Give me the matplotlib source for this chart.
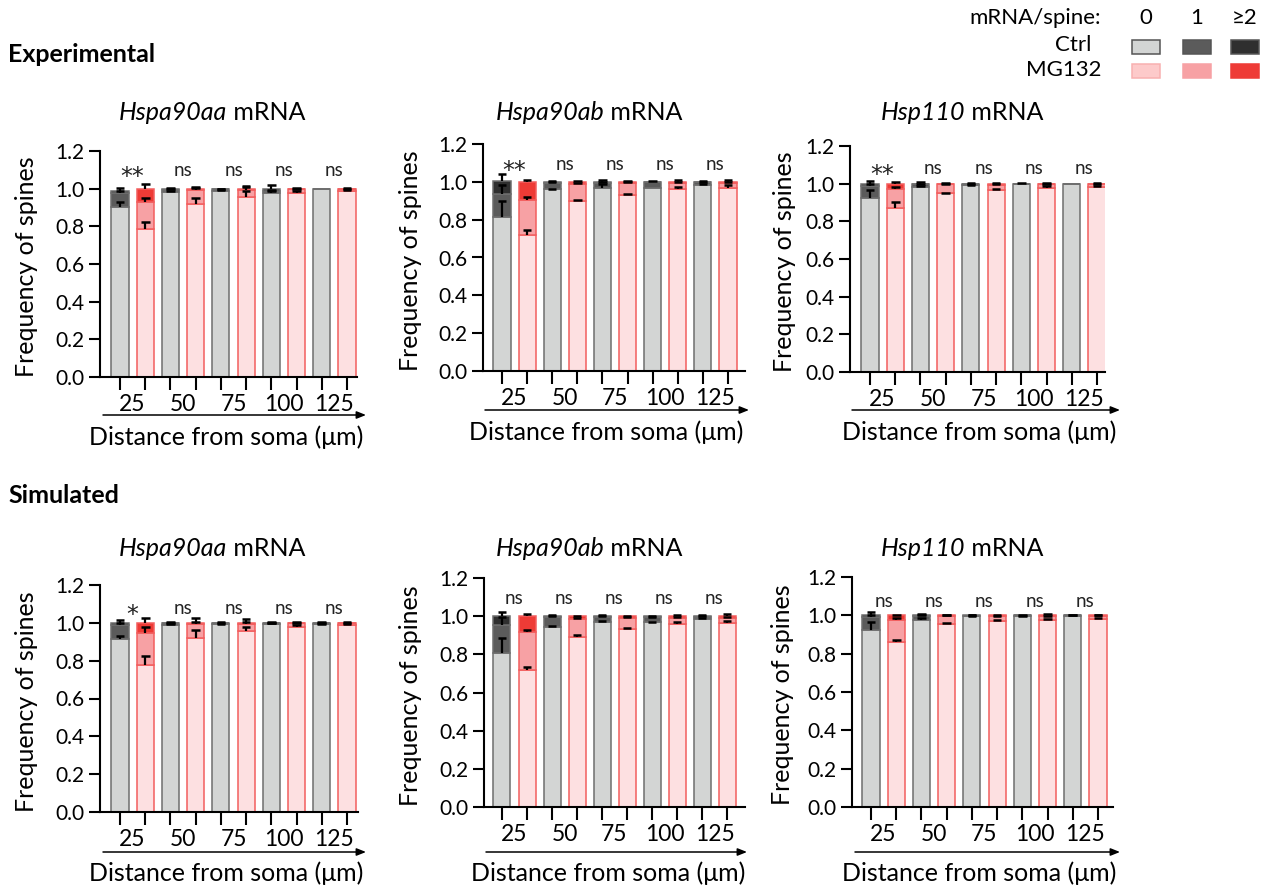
import matplotlib
matplotlib.use('Agg')
import matplotlib.pyplot as plt
import numpy as np
from matplotlib.patches import Rectangle

plt.rcParams['font.family'] = ['Lato', 'DejaVu Sans']

# ---------------- data ----------------
distances = ['25', '50', '75', '100', '125']
levels = ['0', '1', '≥2']
groups = ['Ctrl', 'MG132']
gene_names = ['Hspa90aa', 'Hspa90ab', 'Hsp110']
sections = ['Experimental', 'Simulated']

# Experimental Hspa90aa
exp_aa_ctrl_p0 = [0.900, 0.980, 0.990, 0.975, 0.997]
exp_aa_ctrl_p1 = [0.075, 0.015, 0.007, 0.015, 0.002]
exp_aa_ctrl_p2 = [0.015, 0.002, 0.000, 0.007, 0.000]
exp_aa_ctrl_e0 = [0.027, 0.005, 0.002, 0.012, 0.0]
exp_aa_ctrl_e1 = [0.012, 0.004, 0.002, 0.005, 0.0]
exp_aa_ctrl_e2 = [0.015, 0.005, 0.003, 0.025, 0.0]
exp_aa_mg_p0 = [0.785, 0.920, 0.955, 0.976, 0.985]
exp_aa_mg_p1 = [0.145, 0.075, 0.040, 0.020, 0.012]
exp_aa_mg_p2 = [0.070, 0.005, 0.005, 0.004, 0.003]
exp_aa_mg_e0 = [0.037, 0.030, 0.030, 0.010, 0.008]
exp_aa_mg_e1 = [0.020, 0.006, 0.012, 0.004, 0.003]
exp_aa_mg_e2 = [0.027, 0.010, 0.012, 0.006, 0.004]

# Experimental Hspa90ab
exp_ab_ctrl_p0 = [0.814, 0.960, 0.969, 0.968, 0.985]
exp_ab_ctrl_p1 = [0.120, 0.035, 0.025, 0.030, 0.012]
exp_ab_ctrl_p2 = [0.070, 0.005, 0.006, 0.002, 0.003]
exp_ab_ctrl_e0 = [0.085, 0.004, 0.017, 0.0, 0.004]
exp_ab_ctrl_e1 = [0.050, 0.003, 0.005, 0.0, 0.003]
exp_ab_ctrl_e2 = [0.035, 0.002, 0.012, 0.002, 0.004]
exp_ab_mg_p0 = [0.720, 0.900, 0.932, 0.960, 0.969]
exp_ab_mg_p1 = [0.183, 0.086, 0.064, 0.035, 0.027]
exp_ab_mg_p2 = [0.097, 0.014, 0.004, 0.005, 0.004]
exp_ab_mg_e0 = [0.027, 0.006, 0.004, 0.012, 0.016]
exp_ab_mg_e1 = [0.017, 0.010, 0.002, 0.003, 0.003]
exp_ab_mg_e2 = [0.008, 0.003, 0.002, 0.010, 0.012]

# Experimental Hsp110
exp_110_ctrl_p0 = [0.926, 0.984, 0.993, 0.998, 1.000]
exp_110_ctrl_p1 = [0.060, 0.012, 0.005, 0.002, 0.000]
exp_110_ctrl_p2 = [0.014, 0.004, 0.002, 0.000, 0.000]
exp_110_ctrl_e0 = [0.040, 0.005, 0.002, 0.0, 0.0]
exp_110_ctrl_e1 = [0.010, 0.003, 0.002, 0.0, 0.0]
exp_110_ctrl_e2 = [0.015, 0.008, 0.002, 0.002, 0.0]
exp_110_mg_p0 = [0.870, 0.949, 0.966, 0.979, 0.984]
exp_110_mg_p1 = [0.100, 0.048, 0.027, 0.017, 0.013]
exp_110_mg_p2 = [0.030, 0.003, 0.007, 0.004, 0.003]
exp_110_mg_e0 = [0.030, 0.004, 0.006, 0.009, 0.006]
exp_110_mg_e1 = [0.012, 0.002, 0.004, 0.004, 0.003]
exp_110_mg_e2 = [0.008, 0.002, 0.003, 0.005, 0.004]

# Simulated Hspa90aa
sim_aa_ctrl_p0 = [0.912, 0.988, 0.993, 0.995, 0.993]
sim_aa_ctrl_p1 = [0.075, 0.010, 0.005, 0.004, 0.004]
sim_aa_ctrl_p2 = [0.013, 0.002, 0.002, 0.001, 0.003]
sim_aa_ctrl_e0 = [0.018, 0.004, 0.002, 0.002, 0.002]
sim_aa_ctrl_e1 = [0.010, 0.003, 0.002, 0.002, 0.002]
sim_aa_ctrl_e2 = [0.014, 0.006, 0.003, 0.003, 0.002]
sim_aa_mg_p0 = [0.776, 0.921, 0.958, 0.979, 0.991]
sim_aa_mg_p1 = [0.172, 0.072, 0.035, 0.018, 0.006]
sim_aa_mg_p2 = [0.052, 0.007, 0.007, 0.003, 0.003]
sim_aa_mg_e0 = [0.048, 0.041, 0.021, 0.009, 0.003]
sim_aa_mg_e1 = [0.031, 0.012, 0.010, 0.004, 0.003]
sim_aa_mg_e2 = [0.023, 0.028, 0.018, 0.006, 0.004]

# Simulated Hspa90ab
sim_ab_ctrl_p0 = [0.805, 0.945, 0.969, 0.968, 0.986]
sim_ab_ctrl_p1 = [0.150, 0.050, 0.026, 0.027, 0.011]
sim_ab_ctrl_p2 = [0.045, 0.005, 0.005, 0.005, 0.003]
sim_ab_ctrl_e0 = [0.080, 0.006, 0.008, 0.004, 0.003]
sim_ab_ctrl_e1 = [0.040, 0.004, 0.004, 0.003, 0.002]
sim_ab_ctrl_e2 = [0.022, 0.004, 0.004, 0.003, 0.005]
sim_ab_mg_p0 = [0.720, 0.893, 0.933, 0.960, 0.965]
sim_ab_mg_p1 = [0.199, 0.093, 0.060, 0.033, 0.028]
sim_ab_mg_p2 = [0.081, 0.014, 0.007, 0.007, 0.007]
sim_ab_mg_e0 = [0.016, 0.009, 0.004, 0.009, 0.012]
sim_ab_mg_e1 = [0.006, 0.005, 0.003, 0.004, 0.004]
sim_ab_mg_e2 = [0.012, 0.003, 0.002, 0.007, 0.012]

# Simulated Hsp110
sim_110_ctrl_p0 = [0.922, 0.974, 0.995, 0.998, 0.999]
sim_110_ctrl_p1 = [0.068, 0.022, 0.004, 0.002, 0.001]
sim_110_ctrl_p2 = [0.010, 0.004, 0.001, 0.000, 0.000]
sim_110_ctrl_e0 = [0.043, 0.012, 0.002, 0.001, 0.001]
sim_110_ctrl_e1 = [0.010, 0.004, 0.002, 0.0, 0.0]
sim_110_ctrl_e2 = [0.017, 0.008, 0.002, 0.002, 0.001]
sim_110_mg_p0 = [0.861, 0.957, 0.970, 0.974, 0.980]
sim_110_mg_p1 = [0.116, 0.040, 0.027, 0.021, 0.017]
sim_110_mg_p2 = [0.023, 0.003, 0.003, 0.005, 0.003]
sim_110_mg_e0 = [0.012, 0.005, 0.004, 0.009, 0.008]
sim_110_mg_e1 = [0.009, 0.003, 0.002, 0.004, 0.003]
sim_110_mg_e2 = [0.004, 0.004, 0.003, 0.006, 0.004]

exp_sig = ['**', 'ns', 'ns', 'ns', 'ns']
sim_aa_sig = ['*', 'ns', 'ns', 'ns', 'ns']
sim_sig = ['ns', 'ns', 'ns', 'ns', 'ns']

panel_data = [
    (exp_aa_ctrl_p0, exp_aa_ctrl_p1, exp_aa_ctrl_p2, exp_aa_ctrl_e0, exp_aa_ctrl_e1, exp_aa_ctrl_e2,
     exp_aa_mg_p0, exp_aa_mg_p1, exp_aa_mg_p2, exp_aa_mg_e0, exp_aa_mg_e1, exp_aa_mg_e2, exp_sig),
    (exp_ab_ctrl_p0, exp_ab_ctrl_p1, exp_ab_ctrl_p2, exp_ab_ctrl_e0, exp_ab_ctrl_e1, exp_ab_ctrl_e2,
     exp_ab_mg_p0, exp_ab_mg_p1, exp_ab_mg_p2, exp_ab_mg_e0, exp_ab_mg_e1, exp_ab_mg_e2, exp_sig),
    (exp_110_ctrl_p0, exp_110_ctrl_p1, exp_110_ctrl_p2, exp_110_ctrl_e0, exp_110_ctrl_e1, exp_110_ctrl_e2,
     exp_110_mg_p0, exp_110_mg_p1, exp_110_mg_p2, exp_110_mg_e0, exp_110_mg_e1, exp_110_mg_e2, exp_sig),
    (sim_aa_ctrl_p0, sim_aa_ctrl_p1, sim_aa_ctrl_p2, sim_aa_ctrl_e0, sim_aa_ctrl_e1, sim_aa_ctrl_e2,
     sim_aa_mg_p0, sim_aa_mg_p1, sim_aa_mg_p2, sim_aa_mg_e0, sim_aa_mg_e1, sim_aa_mg_e2, sim_aa_sig),
    (sim_ab_ctrl_p0, sim_ab_ctrl_p1, sim_ab_ctrl_p2, sim_ab_ctrl_e0, sim_ab_ctrl_e1, sim_ab_ctrl_e2,
     sim_ab_mg_p0, sim_ab_mg_p1, sim_ab_mg_p2, sim_ab_mg_e0, sim_ab_mg_e1, sim_ab_mg_e2, sim_sig),
    (sim_110_ctrl_p0, sim_110_ctrl_p1, sim_110_ctrl_p2, sim_110_ctrl_e0, sim_110_ctrl_e1, sim_110_ctrl_e2,
     sim_110_mg_p0, sim_110_mg_p1, sim_110_mg_p2, sim_110_mg_e0, sim_110_mg_e1, sim_110_mg_e2, sim_sig),
]

# ---------------- style ----------------
ctrl_colors = ['#d3d5d4', '#5b5b5b', '#2f2f2f']
mg_colors = ['#fde0e1', '#f7a1a4', '#ee3b36']
ctrl_edge = '#6e6e6e'
mg_edge = '#f25e5e'

W, H = 1273, 888
fig = plt.figure(figsize=(W / 100, H / 100), dpi=100)
renderer = fig.canvas.get_renderer()

def fx(x):
    return x / W

def fy(y):
    return 1 - y / H

# pixel layout: (left, right, top(1.2), bottom(0), first bar, last bar, sig y, title x, title y,
#                ylabel x, xlabel x, xlabel y, arrow x0, arrow x1, arrow y)
layout = [
    (100, 357, 151, 377, 120, 347, 1.095, 212, 113, 27, 226, 437, 103, 366, 415),
    (483, 745, 144, 371, 502, 728, 1.094, 589, 113, 410, 606, 432, 485, 749, 410),
    (850, 1105, 146, 372, 870, 1097, 1.080, 962, 113, 785, 979, 432, 852, 1120, 410),
    (100, 358, 585, 812, 120, 347, 1.075, 212, 548, 27, 226, 873, 103, 366, 852),
    (484, 745, 578, 807, 502, 727, 1.095, 589, 548, 410, 608, 873, 486, 747, 852),
    (852, 1113, 577, 807, 871, 1098, 1.070, 962, 548, 783, 979, 873, 855, 1120, 852),
]

FS_LAB = 18
FS_TICK_Y = 15
FS_TICK_X = 16.5

bw = 0.68
capw = 0.17
for k, (data, lay) in enumerate(zip(panel_data, layout)):
    (cp0, cp1, cp2, ce0, ce1, ce2, mp0, mp1, mp2, me0, me1, me2, sig) = data
    (L, R, T, B, b0, b1, sy, tx, ty, ylx, xlx, xly, ax0, ax1, ay) = lay
    ax = fig.add_axes([fx(L), fy(B), (R - L) / W, (B - T) / H])
    unit = (b1 - b0) / 9.0
    ax.set_xlim((L - b0) / unit, 9 + (R - b1) / unit)
    ax.set_ylim(0, 1.2)
    xc = np.arange(5) * 2.0
    xm = xc + 1.0
    for xs, ps, es, cols, edge in [(xc, (cp0, cp1, cp2), (ce0, ce1, ce2), ctrl_colors, ctrl_edge),
                                   (xm, (mp0, mp1, mp2), (me0, me1, me2), mg_colors, mg_edge)]:
        bottom = np.zeros(5)
        tops = []
        for p, col in zip(ps, cols):
            p = np.asarray(p)
            ax.bar(xs, p, bw, bottom=bottom, color=col, edgecolor=edge, linewidth=1.1, zorder=2)
            bottom = bottom + p
            tops.append(bottom.copy())
        for top, e in zip(tops, es):
            e = np.asarray(e)
            m = e > 0
            if m.any():
                ax.vlines(xs[m], top[m], top[m] + e[m], colors='black', linewidth=1.6, zorder=3)
                ax.hlines(top[m] + e[m], xs[m] - capw, xs[m] + capw, colors='black',
                          linewidth=1.8, zorder=3)
    for i, s in enumerate(sig):
        if s == 'ns':
            ax.text(2 * i + 0.5, sy, s, ha='center', va='center', fontsize=13.5, color='#222222')
        else:
            ax.text(2 * i + 0.5, sy - 0.035, s, ha='center', va='center', fontsize=17,
                    family='DejaVu Sans', color='#222222')
    ax.spines['top'].set_visible(False)
    ax.spines['right'].set_visible(False)
    ax.spines['left'].set_linewidth(1.5)
    ax.spines['bottom'].set_linewidth(1.5)
    ax.set_yticks(np.arange(0, 1.21, 0.2))
    ax.set_yticklabels([f'{v:.1f}' for v in np.arange(0, 1.21, 0.2)])
    ax.set_xticks(np.arange(10))
    ax.set_xticklabels([''] * 10)
    ax.set_xticks(xc + 0.5, minor=True)
    ax.set_xticklabels(distances, minor=True)
    ax.tick_params(axis='y', direction='out', length=8, width=1.5, labelsize=FS_TICK_Y, pad=3.5)
    ax.tick_params(axis='x', which='major', direction='out', length=9, width=1.5)
    ax.tick_params(axis='x', which='minor', length=0, labelsize=FS_TICK_X, pad=12)
    # title: italic gene name + regular " mRNA", centred together
    t1 = fig.text(0, fy(ty), gene_names[k % 3], ha='left', va='center', fontsize=FS_LAB,
                  style='italic')
    t2 = fig.text(0, fy(ty), ' mRNA', ha='left', va='center', fontsize=FS_LAB)
    w1 = t1.get_window_extent(renderer).width
    w2 = t2.get_window_extent(renderer).width
    start = tx - (w1 + w2) / 2
    t1.set_x(fx(start))
    t2.set_x(fx(start + w1))
    fig.text(fx(ylx), fy((T + B) / 2 + 3), 'Frequency of spines', rotation=90,
             ha='center', va='center', fontsize=FS_LAB)
    fig.text(fx(xlx), fy(xly), 'Distance from soma (μm)', ha='center', va='center', fontsize=FS_LAB)
    ax.annotate('', xy=(fx(ax1), fy(ay)), xytext=(fx(ax0), fy(ay)), xycoords='figure fraction',
                textcoords='figure fraction', annotation_clip=False,
                arrowprops=dict(arrowstyle='-|>,head_length=0.55,head_width=0.22',
                                color='black', lw=1.1, shrinkA=0, shrinkB=0))

# section labels
fig.text(fx(8), fy(55), sections[0], ha='left', va='center', fontsize=18, fontweight='bold')
fig.text(fx(8), fy(495), sections[1], ha='left', va='center', fontsize=18, fontweight='bold')

# legend
fig.text(fx(1101), fy(18), 'mRNA/spine:', ha='right', va='center', fontsize=16)
fig.text(fx(1091), fy(45), groups[0], ha='right', va='center', fontsize=16)
fig.text(fx(1101), fy(70), groups[1], ha='right', va='center', fontsize=16)
leg_x = [1146, 1197, 1245]
leg_mg_colors = ['#fdcaca', mg_colors[1], mg_colors[2]]
for j, lx in enumerate(leg_x):
    fig.text(fx(lx), fy(18), levels[j], ha='center', va='center', fontsize=16)
    fig.add_artist(Rectangle((fx(lx - 14), fy(54)), 28 / W, 14 / H, transform=fig.transFigure,
                             facecolor=ctrl_colors[j], edgecolor='#555555', linewidth=1.1))
    fig.add_artist(Rectangle((fx(lx - 14), fy(78)), 28 / W, 14 / H, transform=fig.transFigure,
                             facecolor=leg_mg_colors[j], edgecolor='#f8b0b0' if j == 0 else mg_colors[j],
                             linewidth=1.1))

fig.savefig('out.png', dpi=100)
